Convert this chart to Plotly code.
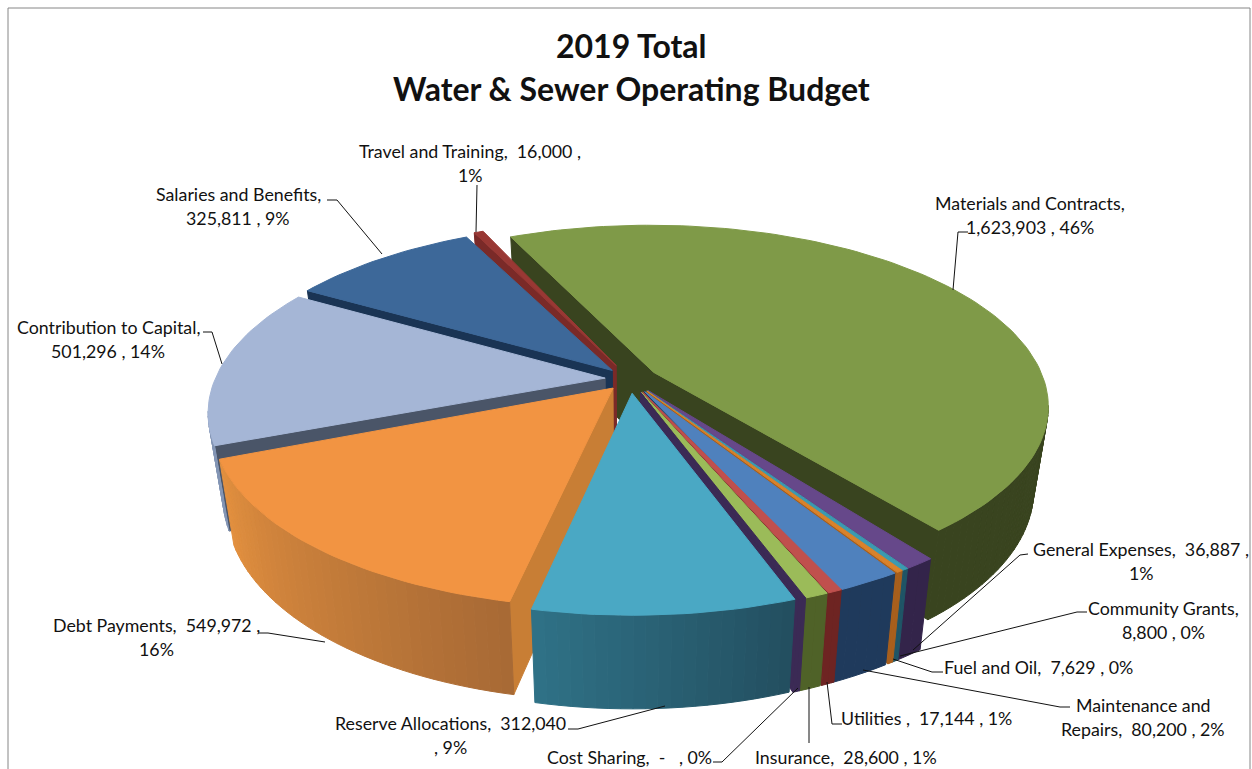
import math
import plotly.graph_objects as go

# ---------- data ----------
categories = ["Materials and Contracts", "General Expenses", "Community Grants", "Fuel and Oil",
              "Maintenance and Repairs", "Utilities", "Insurance", "Cost Sharing",
              "Reserve Allocations", "Debt Payments", "Contribution to Capital",
              "Salaries and Benefits", "Travel and Training"]
values = [1623903, 36887, 8800, 7629, 80200, 17144, 28600, 0, 312040, 549972, 501296, 325811, 16000]
label_lines = [
    ["Materials and Contracts,", "1,623,903 , 46%"],
    ["General Expenses,  36,887 ,", "1%"],
    ["Community Grants,", "8,800 , 0%"],
    ["Fuel and Oil,  7,629 , 0%"],
    ["Maintenance and", "Repairs,  80,200 , 2%"],
    ["Utilities ,  17,144 , 1%"],
    ["Insurance,  28,600 , 1%"],
    ["Cost Sharing,  -   , 0%"],
    ["Reserve Allocations,  312,040", ", 9%"],
    ["Debt Payments,  549,972 ,", "16%"],
    ["Contribution to Capital,", "501,296 , 14%"],
    ["Salaries and Benefits,", "325,811 , 9%"],
    ["Travel and Training,  16,000 ,", "1%"],
]
title_lines = ["2019 Total", "Water & Sewer Operating Budget"]

# ---------- style ----------
top_colors = ["#7f9a48", "#66488a", "#3c9ab0", "#d9822b", "#4f81bd", "#c0504d", "#9bbb59", "#3b2a55",
              "#4aa8c4", "#f29442", "#a5b6d6", "#3d6899", "#993834"]
wall_left = ["#39441f", "#33244a", "#1f5566", "#a85f1c", "#1f3a5c", "#6e2422", "#4f6228", "#3b2a55",
             "#2f7186", "#e3903f", "#8496b5", "#1a3454", "#7a2a28"]
wall_right = ["#39441f", "#33244a", "#1f5566", "#a85f1c", "#1f3a5c", "#6e2422", "#4f6228", "#3b2a55",
              "#234f60", "#a86a35", "#8496b5", "#1a3454", "#7a2a28"]
cut_colors = ["#39441f", "#33244a", "#1f5566", "#a85f1c", "#1f3a5c", "#6e2422", "#4f6228", "#3b2a55",
              "#234f60", "#c87e35", "#4a5568", "#1a3454", "#7a2a28"]
explode = [.072, .08, .08, .08, .08, .08, .08, .08, .08, .067, .064, .067, .085]
zero_sweep = 0.9      # a zero slice is still drawn as a sliver in the original
# small angular nudges (degrees) that reproduce where the original's exploded slices sit
turns = [0, 1.4, 1.3, 1.2, 1.2, .5, .5, .3, -.5, -.6, 0, 0, .7]
draw_order = [0, 12, 11, 10, 9, 1, 2, 3, 4, 5, 6, 7, 8]

CX, CY, R, RT, K, H, SHRINK = 630, 379, 390, 176, .181, 82, .965
START = -24.8
CAM = (0, 1 / K)


def project(X, Y, bottom=False):
    s = 1 / (1 - K * Y)
    x, y = CX + R * X * s, CY + RT * Y * s
    if bottom:
        x, y = CX + SHRINK * (x - CX), CY + SHRINK * (y - CY) + H * s
    return x, y


def hex2rgb(c):
    return tuple(int(c[i:i + 2], 16) for i in (1, 3, 5))


def mix(a, b, t):
    ca, cb = hex2rgb(a), hex2rgb(b)
    return "rgb(%d,%d,%d)" % tuple(round(p + (q - p) * t) for p, q in zip(ca, cb))


fig = go.Figure()


def poly(points, color, line=None):
    xs, ys = zip(*points)
    fig.add_trace(go.Scatter(x=list(xs) + [xs[0]], y=list(ys) + [ys[0]], mode="lines", fill="toself",
                             fillcolor=color, line=dict(color=line or color, width=1),
                             hoverinfo="skip", showlegend=False))


def faces(i, a0, a1):
    m = math.radians((a0 + a1) / 2)
    ax, ay = explode[i] * math.sin(m), -explode[i] * math.cos(m)
    t0, t1 = math.radians(a0), math.radians(a1)
    n = max(2, int((a1 - a0) / 1.5))
    th = [t0 + (t1 - t0) * j / n for j in range(n + 1)]
    rim = [(ax + math.sin(t), ay - math.cos(t)) for t in th]

    def seen(nx, ny, px, py):
        return nx * (CAM[0] - px) + ny * (CAM[1] - py) > 0

    def cut(rp, nx, ny):
        if seen(nx, ny, ax, ay):
            poly([project(ax, ay), project(*rp), project(*rp, True), project(ax, ay, True)], cut_colors[i])

    cut(rim[0], -math.cos(t0), -math.sin(t0))
    cut(rim[-1], math.cos(t1), math.sin(t1))
    # outer wall, in strips, shaded from the right-hand end to the left-hand end
    strips = []
    for j in range(n):
        tm = (th[j] + th[j + 1]) / 2
        if seen(math.sin(tm), -math.cos(tm), ax + math.sin(tm), ay - math.cos(tm)):
            strips.append(j)
    for q, j in enumerate(strips):
        f = q / max(1, len(strips) - 1)
        poly([project(*rim[j]), project(*rim[j + 1]), project(*rim[j + 1], True), project(*rim[j], True)],
             mix(wall_right[i], wall_left[i], f))
    poly([project(ax, ay)] + [project(*p) for p in rim], top_colors[i])


total = sum(values)
spans, a = {}, START
for i, v in enumerate(values):
    sweep = v / total * (360 - zero_sweep) if v else zero_sweep
    spans[i] = (a + turns[i], a + sweep + turns[i])
    a += sweep
for i in draw_order:
    faces(i, *spans[i])

# ---------- leaders and labels (page pixels) ----------
leaders = [
    [(968, 232), (958, 232), (953, 290)],
    [(1028, 554), (1020, 555), (913, 650)],
    [(1087, 612), (1077, 612), (900, 656)],
    [(943, 672), (932, 672), (893, 659)],
    [(1070, 707), (1060, 707), (863, 670)],
    [(842, 724), (832, 724), (827, 682)],
    [(809, 743), (809, 687)],
    [(713, 762), (722, 762), (798, 688)],
    [(568, 729), (578, 729), (665, 706)],
    [(258, 633), (268, 633), (325, 642)],
    [(203, 332), (212, 332), (222, 364)],
    [(327, 200), (337, 200), (382, 254)],
    [(477, 185), (476, 232)],
]
label_pos = [(1030, 203), (1141, 549), (1163, 608), (1038, 667), (1143, 705), (926, 718), (846, 757),
             (629, 757), (450, 723), (156, 625), (108, 327), (238, 194), (470, 151)]
LINE_GAP = 24
FONT = "Lato, Carlito, Calibri, sans-serif"

for pts in leaders:
    xs, ys = zip(*pts)
    fig.add_trace(go.Scatter(x=xs, y=ys, mode="lines", line=dict(color="#111111", width=1),
                             hoverinfo="skip", showlegend=False))

annotations = []
for lines, (x, y) in zip(label_lines, label_pos):
    for j, text in enumerate(lines):
        annotations.append(dict(x=x, y=y + j * LINE_GAP, xref="x", yref="y", text=text.replace(" ", "\u00a0"),
                                showarrow=False, xanchor="center", yanchor="middle",
                                font=dict(family=FONT, size=17.8, color="#111111")))
for text, y in zip(title_lines, (45, 88)):
    annotations.append(dict(x=631, y=y, xref="x", yref="y", text="<b>%s</b>" % text, showarrow=False,
                            xanchor="center", yanchor="middle",
                            font=dict(family=FONT, size=32, color="#111111")))

border = [(8, 769, 8, 8), (8, 8, 1250, 8), (1250, 8, 1250, 769)]
shapes = [dict(type="line", x0=p, y0=q, x1=r, y1=s, xref="x", yref="y", line=dict(color="#868686", width=1))
          for p, q, r, s in border]

fig.update_layout(width=1252, height=769, margin=dict(l=0, r=0, t=0, b=0), paper_bgcolor="white",
                  plot_bgcolor="white", showlegend=False, annotations=annotations, shapes=shapes,
                  xaxis=dict(range=[0, 1252], visible=False, fixedrange=True),
                  yaxis=dict(range=[769, 0], visible=False, fixedrange=True))
fig.write_html("out.html", config=dict(displayModeBar=False),
               post_script="document.body.style.margin='0';document.body.style.overflow='hidden';")
